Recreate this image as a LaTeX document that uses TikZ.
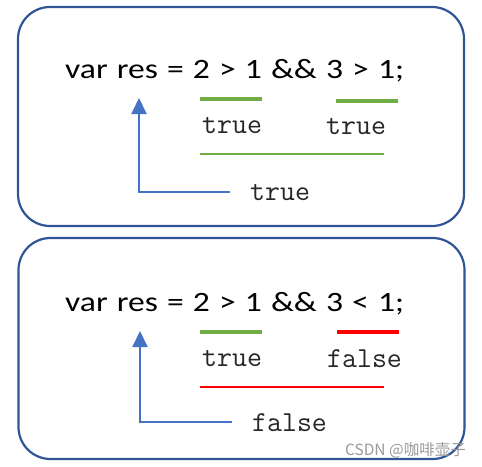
\documentclass[tikz,border=0pt]{standalone}
\usepackage{fontspec}
\setmainfont{Carlito}
\newfontfamily\codefont[FakeStretch=1.2, WordSpace=1.2]{Carlito}
\newfontfamily\cjkfont{Noto Sans CJK SC}
\usepackage{tikz}
\usetikzlibrary{arrows.meta}
\definecolor{boxblue}{RGB}{47,85,151}
\definecolor{arrowblue}{RGB}{68,114,196}
\definecolor{truegreen}{RGB}{112,173,71}
\definecolor{falsered}{RGB}{255,0,0}
\tikzstyle{box} = [draw=boxblue, line width=2.2pt, rounded corners=32pt,
    minimum width=446pt, minimum height=219pt]
\tikzstyle{code} = [anchor=base west, inner sep=0pt, font=\codefont\fontsize{28}{30}\selectfont]
\tikzstyle{value} = [anchor=base west, inner sep=0pt, text=black!85,
    font=\ttfamily\fontsize{29}{31}\selectfont]
\tikzstyle{result} = [value, inner xsep=20pt]
\tikzstyle{bar} = [line width=3.3pt]
\tikzstyle{under} = [line width=2.3pt]
\tikzstyle{line} = [draw=arrowblue, line width=2pt, -{Triangle[width=15pt,length=16pt]}]

\begin{document}
\begin{tikzpicture}[x=1pt, y=-1pt]
    \useasboundingbox (0,0) rectangle (482,466);
    % Place boxes
    \node [box] (box1) at (241,116.5) {};
    \node [box, minimum height=221pt] (box2) at (241.5,348.5) {};

    % First expression
    \node [code] (code1) at (65,78) {var res = 2 > 1 \&\& 3 > 1;};
    \node [value] (left1) at (202,133) {true};
    \node [value] (right1) at (326,134) {true};
    \node [result] (res1) at (230,200) {true};
    \coordinate (tip1) at (139,98);

    % Second expression
    \node [code] (code2) at (65,311) {var res = 2 > 1 \&\& 3 < 1;};
    \node [value] (left2) at (202,366) {true};
    \node [value] (right2) at (327,367) {false};
    \node [result] (res2) at (232,431) {false};
    \coordinate (tip2) at (140,331);

    % Underlines
    \draw [bar, truegreen] (200,99) -- (262,99);
    \draw [bar, truegreen] (336,101) -- (398,101);
    \draw [under, truegreen] (200,154) -- (384,154);
    \draw [bar, truegreen] (200,332) -- (262,332);
    \draw [bar, falsered] (337,332) -- (399,332);
    \draw [under, falsered] (200,387) -- (384,387);

    \path [line] (res1.west) -| (tip1);
    \path [line] (res2.west) -| (tip2);

    \node [anchor=base east, inner sep=0pt, text=black!40,
        font=\cjkfont\fontsize{15.5}{17}\selectfont] (mark) at (466,455) {CSDN @咖啡壶子};
\end{tikzpicture}
\end{document}
